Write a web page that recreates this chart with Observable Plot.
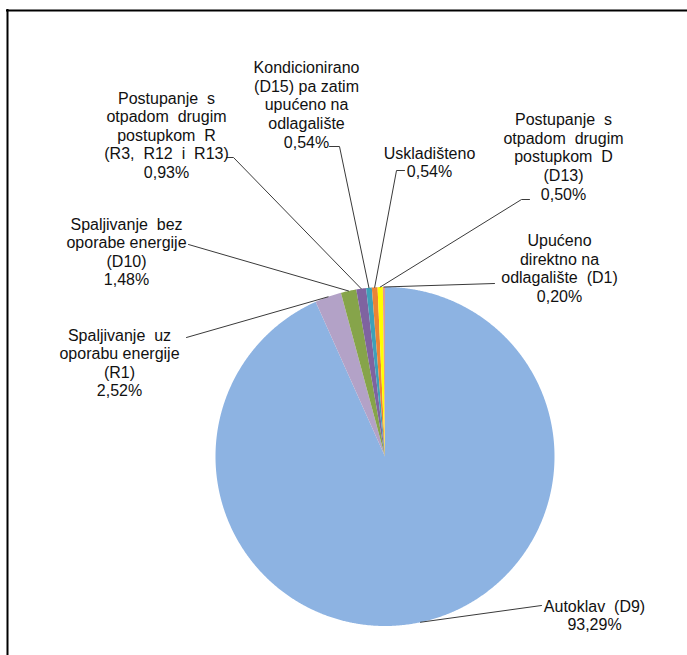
<!DOCTYPE html>
<html>
<head>
<meta charset="utf-8">
<script src="https://cdn.jsdelivr.net/npm/d3@7"></script>
<script src="https://cdn.jsdelivr.net/npm/@observablehq/plot@0.6"></script>
<style>
  html, body { margin: 0; padding: 0; background: #fff; }
  svg { display: block; }
</style>
</head>
<body>
<script>
// ---- data ----
const categories = [
  "Autoklav  (D9)",
  "Spaljivanje  uz\noporabu energije\n(R1)",
  "Spaljivanje  bez\noporabe energije\n(D10)",
  "Postupanje  s\notpadom  drugim\npostupkom  R\n(R3,  R12  i  R13)",
  "Kondicionirano\n(D15) pa zatim\nupućeno na\nodlagalište",
  "Uskladišteno",
  "Postupanje  s\notpadom  drugim\npostupkom  D\n(D13)",
  "Upućeno\ndirektno na\nodlagalište  (D1)"
];
const shares = [93.29, 2.52, 1.48, 0.93, 0.54, 0.54, 0.50, 0.20];

// ---- styles / layout ----
const sliceColors = ["#8DB3E2", "#B3A2C7", "#86A44A", "#7F63A0", "#3FA0B8", "#EC8434", "#FFFF00", "#E39C8F"];
const W = 687, H = 655;
const cx = 384.5, cy = 456, R = 169.5;
const labelCenters = [[594, 614.5], [119, 362], [126, 251], [166, 134.5], [306, 104], [429, 161.5], [563, 156], [559, 267.5]];
const leaderTargets = [
  [[541, 605]],
  [[186, 337]],
  [[188, 244]],
  [[233, 157], [226, 157]],
  [[339, 146], [329, 146]],
  [[396, 170], [404, 170]],
  [[521, 199], [529, 199]],
  [[494, 283]]
];

// ---- geometry from values ----
const total = d3.sum(shares);
let acc = 0;
const slices = shares.map((v, i) => {
  const a0 = acc / total * 2 * Math.PI;
  acc += v;
  const a1 = acc / total * 2 * Math.PI;
  return {cat: categories[i], value: v, a0, a1, mid: (a0 + a1) / 2};
});
const polar = (a, r) => [cx + r * Math.sin(a), cy - r * Math.cos(a)];

const slicePts = [];
slices.forEach(s => {
  slicePts.push({cat: s.cat, x: cx, y: cy});
  const n = Math.max(2, Math.ceil((s.a1 - s.a0) / 0.005));
  for (let k = 0; k <= n; k++) {
    const a = s.a0 + (s.a1 - s.a0) * k / n;
    const [x, y] = polar(a, R);
    slicePts.push({cat: s.cat, x, y});
  }
});

const leaderPts = [];
slices.forEach((s, i) => {
  const [x, y] = polar(s.mid, R);
  leaderPts.push({cat: s.cat, x, y});
  leaderTargets[i].forEach(([lx, ly]) => leaderPts.push({cat: s.cat, x: lx, y: ly}));
});

const fmt = v => v.toFixed(2).replace(".", ",") + "%";
const labels = slices.map((s, i) => ({
  x: labelCenters[i][0], y: labelCenters[i][1],
  text: (s.cat + "\n" + fmt(s.value)).replace(/  /g, " \u00a0")
}));

const chart = Plot.plot({
  width: W, height: H,
  margin: 0,
  style: {background: "#fff", fontFamily: "'Liberation Sans', Arial, sans-serif"},
  x: {domain: [0, W], range: [0, W], axis: null},
  y: {domain: [0, H], range: [0, H], axis: null},
  color: {domain: categories, range: sliceColors},
  marks: [
    Plot.line(slicePts, {x: "x", y: "y", z: "cat", fill: "cat", stroke: null, curve: "linear-closed"}),
    Plot.line(leaderPts, {x: "x", y: "y", z: "cat", stroke: "#3a3a3a", strokeWidth: 1}),
    Plot.text(labels, {x: "x", y: "y", text: "text", textAnchor: "middle", lineAnchor: "middle",
      lineHeight: 1.16, fontSize: 16, fill: "#111"}),
    Plot.ruleY([10], {x1: 6, x2: W, stroke: "#000", strokeWidth: 2}),
    Plot.ruleX([7], {y1: 9, y2: H, stroke: "#000", strokeWidth: 2})
  ]
});
document.body.append(chart);
</script>
</body>
</html>
